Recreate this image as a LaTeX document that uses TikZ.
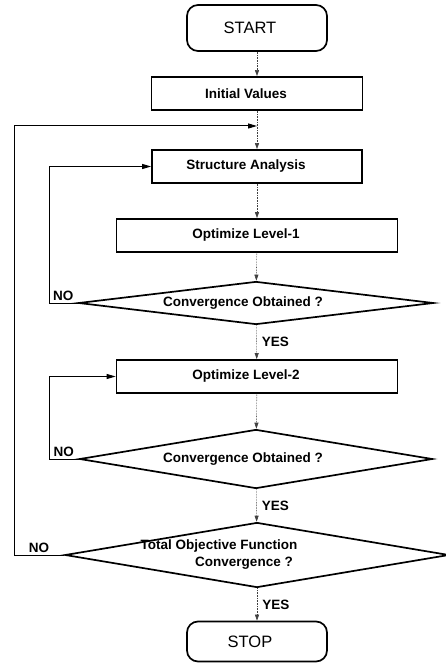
\documentclass[tikz,border=0pt]{standalone}
\usepackage{fontspec}
\setsansfont{Liberation Sans}
\usetikzlibrary{arrows.meta,positioning,shapes.geometric}

\begin{document}
\begin{tikzpicture}[
    x=1pt, y=-1pt,
    font=\sffamily,
    term/.style={
        rectangle, draw=black, line width=1.7pt, rounded corners=11pt,
        minimum width=140pt, inner sep=2pt,
        font=\sffamily\fontsize{16.5}{18}\selectfont,
        execute at end node={\hspace*{14pt}}
    },
    proc/.style={
        rectangle, draw=black, line width=1.7pt, minimum height=33pt,
        inner sep=2pt, font=\sffamily\fontsize{13.5}{15}\selectfont\bfseries,
        execute at end node={\hspace*{22pt}}
    },
    decis/.style={
        diamond, aspect=6, draw=black, line width=1.7pt,
        inner xsep=-34pt, inner ysep=-5pt, align=center,
        font=\sffamily\fontsize{13.5}{17}\selectfont\bfseries,
        execute at end node={\hspace*{26pt}}
    },
    flow/.style={densely dotted, line width=0.6pt, draw=black!75,
        -{Triangle[length=6pt, width=4pt]}},
    back/.style={line width=1pt, draw=black,
        -{Triangle[length=9pt, width=5pt]}},
    tag/.style={font=\sffamily\fontsize{13.5}{15}\selectfont\bfseries, inner sep=2pt}
]
    \useasboundingbox (0,0) rectangle (446,663);

    % Main column
    \node [term, minimum height=46pt] (start) at (257,28) {START};
    \node [proc, minimum width=211pt] (init) at (257,93.5) {Initial Values};
    \coordinate (merge) at (257,126);
    \node [proc, minimum width=210pt] (struct) at (257,166.5) {Structure Analysis};
    \node [proc, minimum width=281pt] (opt1) at (257,235.5) {Optimize Level-1};
    \node [decis, minimum width=355pt, minimum height=43pt] (conv1) at (256,303) {Convergence Obtained ?};
    \node [proc, minimum width=281pt] (opt2) at (257,376.5) {Optimize Level-2};
    \node [decis, minimum width=353pt, minimum height=59pt] (conv2) at (256,459) {Convergence Obtained ?};
    \node [decis, minimum width=384pt, minimum height=65pt] (conv3) at (257,555) {Total Objective Function\hspace*{50pt}\\Convergence ?};
    \node [term, minimum height=40pt] (stop) at (257,641.5) {STOP};

    % Lanes for the return lines
    \coordinate (lane1) at (49,0);
    \coordinate (lane2) at (14,0);

    % Forward flow
    \draw [flow] (start) -- (init);
    \draw [flow] (init) -- (struct);
    \draw [flow] (struct) -- (opt1);
    \draw [flow] (opt1) -- (conv1);
    \draw [flow] (conv1) -- node[tag, right, xshift=3pt] {YES} (opt2);
    \draw [flow] (opt2) -- (conv2);
    \draw [flow] (conv2) -- node[tag, right, xshift=3pt] {YES} (conv3);
    \draw [flow] (conv3) -- node[tag, right, xshift=3pt] {YES} (stop);

    % Return lines (NO)
    \draw [back] (conv1.west) -- node[tag, above] {NO} (conv1.west -| lane1) |- (struct.west);
    \draw [back] (conv2.west) -- node[tag, above] {NO} (conv2.west -| lane1) |- (opt2.west);
    \draw [back] (conv3.west) -- node[tag, above] {NO} (conv3.west -| lane2) |- (merge);

\end{tikzpicture}
\end{document}
